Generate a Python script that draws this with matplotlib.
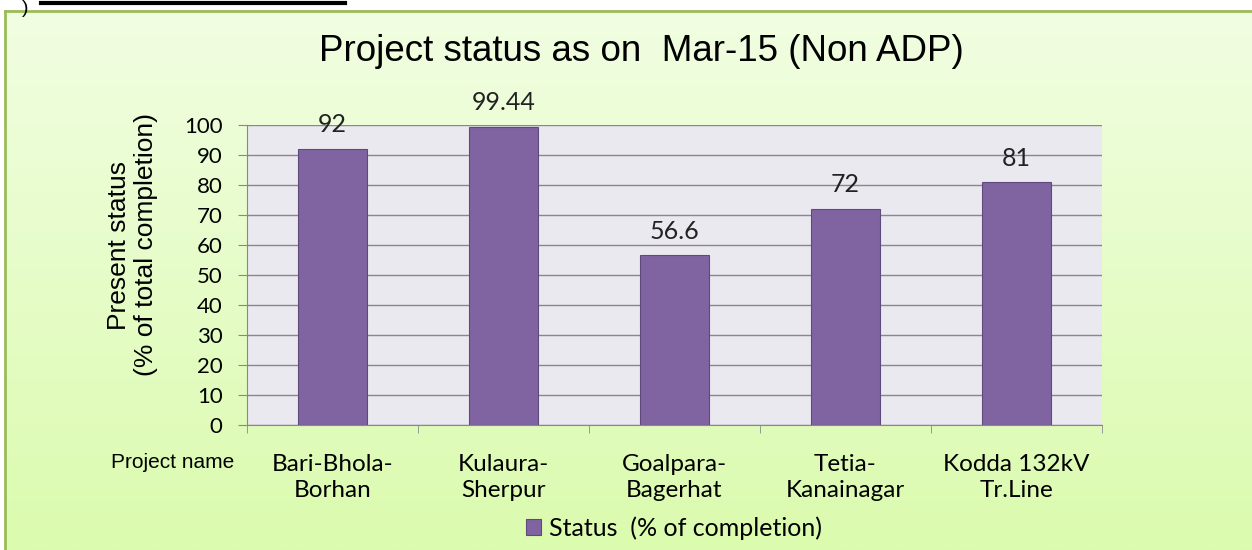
import numpy as np
import matplotlib
matplotlib.use('Agg')
import matplotlib.pyplot as plt
from matplotlib.colors import LinearSegmentedColormap
from matplotlib.lines import Line2D

# data
projects = ['Bari-Bhola-\nBorhan', 'Kulaura-\nSherpur', 'Goalpara-\nBagerhat',
            'Tetia-\nKanainagar', 'Kodda 132kV\nTr.Line']
status = [92, 99.44, 56.6, 72, 81]
value_labels = ['92', '99.44', '56.6', '72', '81']
yticks = list(range(0, 101, 10))

bar_color = '#8064A2'
title_font = 'Liberation Sans'
label_font = 'Lato'

fig = plt.figure(figsize=(12.52, 5.5), dpi=100)
fig.patch.set_facecolor('white')

# green gradient box behind the chart
bg = fig.add_axes([5 / 1252, 0, 1 - 5 / 1252, 1 - 11 / 550], zorder=0)
cmap = LinearSegmentedColormap.from_list('bg', ['#f1fee2', '#dbfbae'])
bg.imshow(np.linspace(0, 1, 256).reshape(-1, 1), aspect='auto', cmap=cmap,
          extent=[0, 1, 0, 1])
bg.set_xticks([])
bg.set_yticks([])
for side in ['top', 'left']:
    bg.spines[side].set_color('#9bbb59')
    bg.spines[side].set_linewidth(2)
for side in ['right', 'bottom']:
    bg.spines[side].set_visible(False)

# cut-off heading from the page above
fig.add_artist(Line2D([41 / 1252, 345 / 1252], [1 - 3 / 550, 1 - 3 / 550],
                      color='black', linewidth=3))
fig.text(22 / 1252, 1.0, ')', fontsize=14, family=title_font, va='top', ha='left')

ax = fig.add_axes([247 / 1252, 1 - 425 / 550, 855 / 1252, 300 / 550], zorder=1)
ax.set_facecolor('#ebe9f0')
x = np.arange(len(projects))
ax.bar(x, status, width=0.4, color=bar_color, edgecolor='#5f4a7c',
       linewidth=0.8, zorder=3, label='Status  (% of completion)')
for xi, v, t in zip(x, status, value_labels):
    ax.annotate(t, (xi, v), xytext=(0, 9), textcoords='offset points',
                ha='center', va='bottom', fontsize=18, family=label_font,
                color='#222222')

ax.set_xlim(-0.5, len(projects) - 0.5)
ax.set_ylim(0, 100)
ax.set_yticks(yticks)
ax.set_yticklabels([str(t) for t in yticks], fontsize=16, family=label_font)
ax.yaxis.grid(True, color='#888888', linewidth=1, zorder=0)
ax.set_axisbelow(True)

ax.set_xticks(x)
ax.set_xticklabels(projects, fontsize=17.5, family=label_font, linespacing=1.3)
ax.set_xticks(np.arange(-0.5, len(projects)), minor=True)
ax.tick_params(axis='x', which='major', length=0, pad=21)
ax.tick_params(axis='x', which='minor', length=6, color='#888888', direction='out')
ax.tick_params(axis='y', length=6.5, color='#888888', pad=11)

for side in ['top', 'right']:
    ax.spines[side].set_visible(False)
ax.spines['left'].set_color('#888888')
ax.spines['bottom'].set_color('#888888')

ax.set_ylabel('Present status\n(% of total completion)', fontsize=19,
              family=title_font, linespacing=1.15)
ax.yaxis.set_label_coords((158 - 247) / 855, (425 - 245) / 300)

fig.text(641 / 1252, 1 - 61 / 550, 'Project status as on  Mar-15 (Non ADP)',
         fontsize=26.5, family=title_font, ha='center', va='baseline')
fig.text(173 / 1252, 1 - 463 / 550, 'Project name', fontsize=15,
         family=title_font, ha='center', va='center')

fig.legend(loc='center', bbox_to_anchor=(674 / 1252, 1 - 528 / 550),
           frameon=False, prop={'family': label_font, 'size': 18},
           handlelength=0.6, handleheight=0.6, handletextpad=0.3)

fig.savefig('out.png', dpi=100)
